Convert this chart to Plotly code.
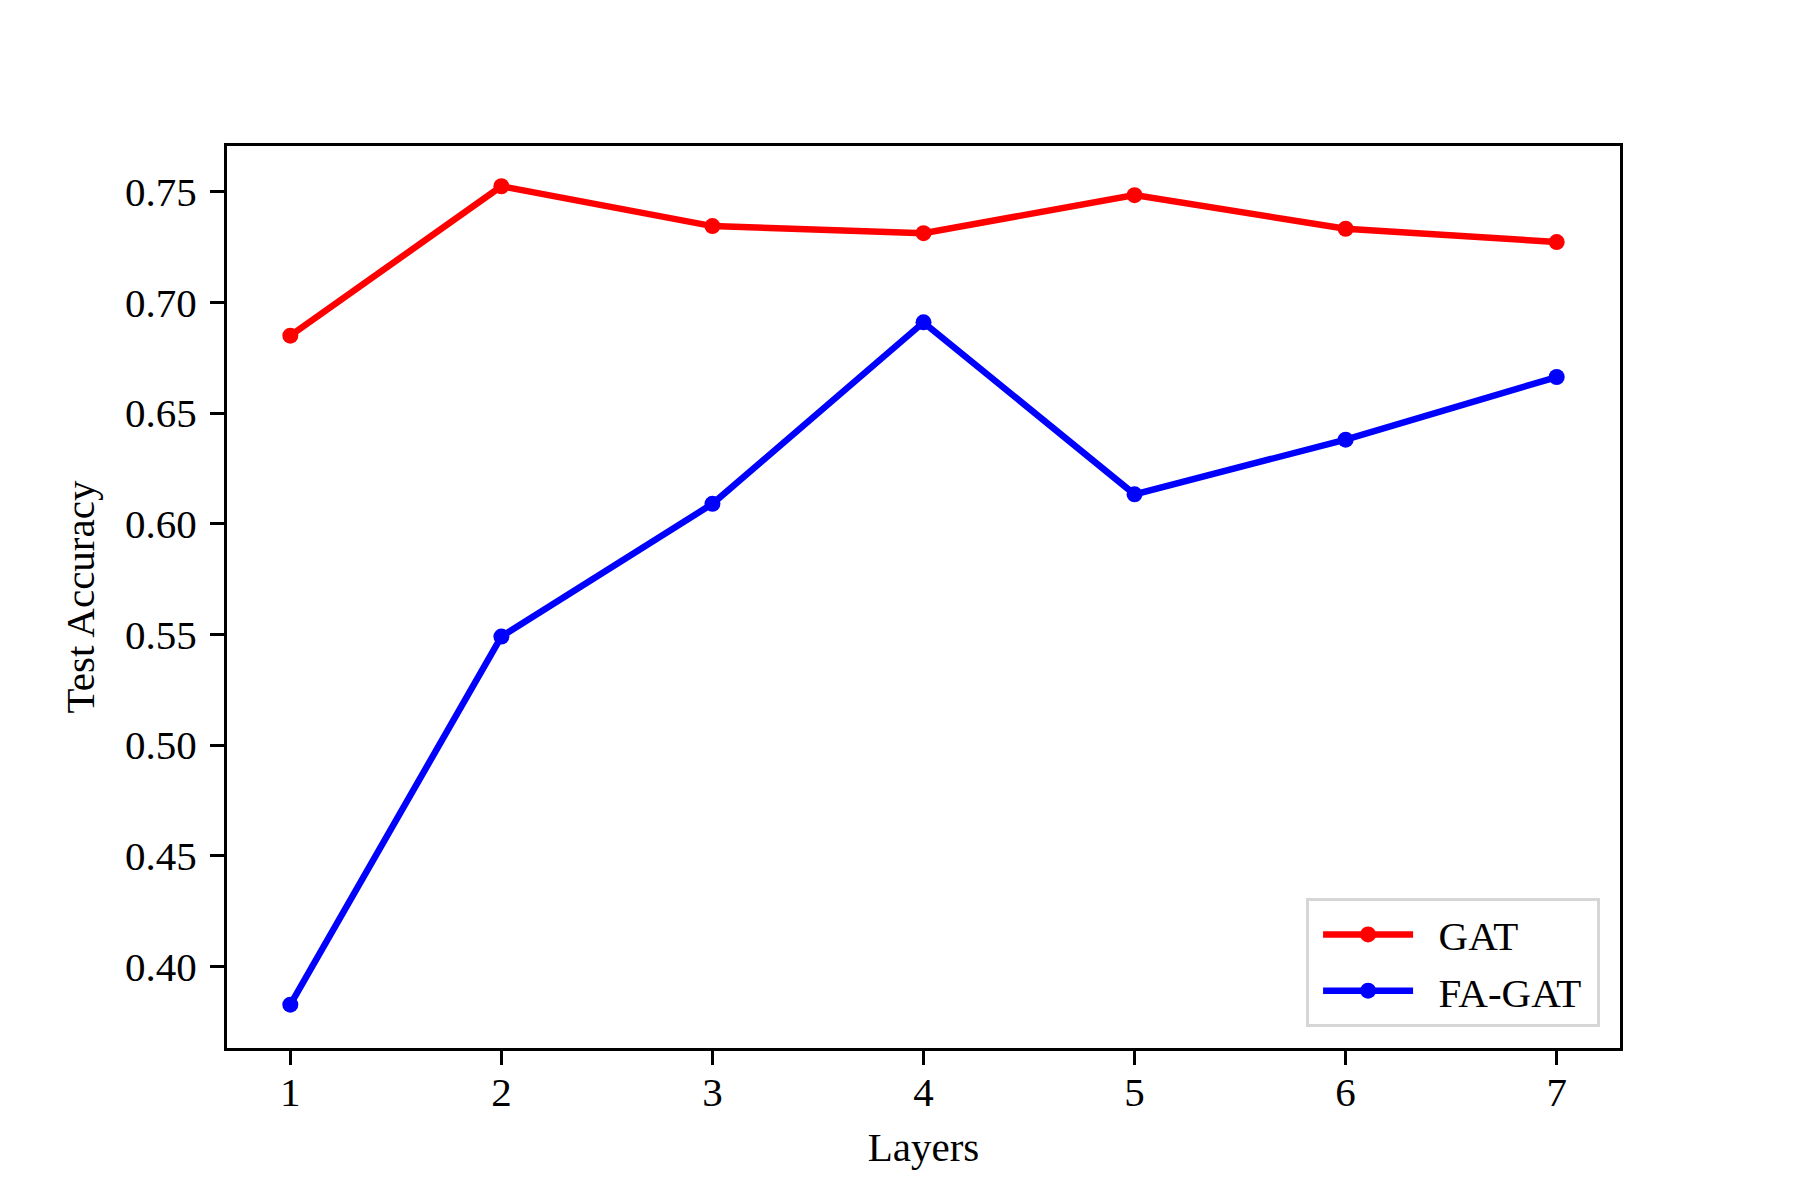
import plotly.graph_objects as go

layers = [1, 2, 3, 4, 5, 6, 7]
gat = [0.685, 0.7525, 0.7345, 0.7313, 0.7485, 0.7333, 0.7273]
fa_gat = [0.3827, 0.549, 0.609, 0.691, 0.6133, 0.638, 0.6663]
y_ticks = [0.40, 0.45, 0.50, 0.55, 0.60, 0.65, 0.70, 0.75]
y_tick_labels = ["0.40", "0.45", "0.50", "0.55", "0.60", "0.65", "0.70", "0.75"]
series_names = ["GAT", "FA-GAT"]

FONT = "Liberation Serif, Times New Roman, serif"

fig = go.Figure()
fig.add_trace(go.Scatter(x=layers, y=gat, mode="lines+markers",
                         name="\u2002" + series_names[0] + "\u2005",
                         line=dict(color="#ff0000", width=6.5),
                         marker=dict(color="#ff0000", size=16)))
fig.add_trace(go.Scatter(x=layers, y=fa_gat, mode="lines+markers",
                         name="\u2002" + series_names[1] + "\u2005",
                         line=dict(color="#0000ff", width=6.5),
                         marker=dict(color="#0000ff", size=16)))

axis_common = dict(showline=True, linecolor="black", linewidth=3.3, mirror=True,
                   ticks="outside", ticklen=14, tickwidth=3.3, tickcolor="black",
                   showgrid=False, zeroline=False,
                   tickfont=dict(family=FONT, size=41, color="black"))

fig.update_xaxes(range=[0.7, 7.3], tickvals=layers, ticktext=[str(v) for v in layers],
                 ticklabelstandoff=-8,
                 title=dict(text="Layers", font=dict(family=FONT, size=41, color="black"), standoff=18),
                 **axis_common)
fig.update_yaxes(range=[0.3631, 0.7707], tickvals=y_ticks, ticktext=y_tick_labels,
                 ticklabelstandoff=5,
                 title=dict(text="Test Accuracy", font=dict(family=FONT, size=41, color="black"), standoff=18),
                 **axis_common)

fig.update_layout(
    width=1800, height=1200, autosize=False,
    margin=dict(l=219, r=188, t=138, b=160, pad=0),
    plot_bgcolor="white", paper_bgcolor="white",
    font=dict(family=FONT, size=41, color="black"),
    legend=dict(x=0.9857, y=0.023, xanchor="right", yanchor="bottom",
                bgcolor="rgba(255,255,255,0.8)", bordercolor="#d6d6d6", borderwidth=3,
                font=dict(family=FONT, size=41, color="black"),
                itemwidth=90, tracegroupgap=0, indentation=9),
    showlegend=True,
)

fig.write_html("out.html")
